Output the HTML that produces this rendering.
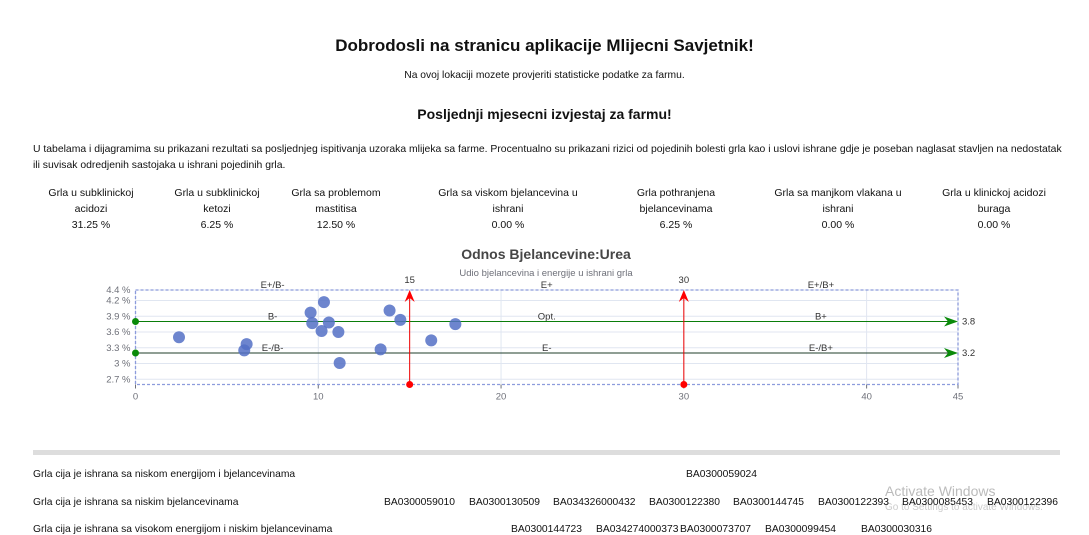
<!DOCTYPE html>
<html><head><meta charset="utf-8"><style>
body{margin:0;width:1089px;height:535px;overflow:hidden;background:#fff;font-family:"Liberation Sans",Arial,sans-serif;color:#111;position:relative}
.a{position:absolute;white-space:nowrap}
.c{position:absolute;text-align:center;transform:translateX(-50%);font-size:10.5px;line-height:16px;white-space:nowrap}
.r{position:absolute;font-size:10.3px;white-space:nowrap}
</style></head><body>
<div class="a" style="left:0;width:1089px;text-align:center;top:36px;font-size:17px;font-weight:bold">Dobrodosli na stranicu aplikacije Mlijecni Savjetnik!</div>
<div class="a" style="left:0;width:1089px;text-align:center;top:70px;font-size:10.3px">Na ovoj lokaciji mozete provjeriti statisticke podatke za farmu.</div>
<div class="a" style="left:0;width:1089px;text-align:center;top:106px;font-size:14px;font-weight:bold">Posljednji mjesecni izvjestaj za farmu!</div>
<div class="a" style="left:33px;top:142px;font-size:10.4px;line-height:16px;white-space:normal;width:1030px">U tabelama i dijagramima su prikazani rezultati sa posljednjeg ispitivanja uzoraka mlijeka sa farme. Procentualno su prikazani rizici od pojedinih bolesti grla kao i uslovi ishrane gdje je poseban naglasat stavljen na nedostatak ili suvisak odredjenih sastojaka u ishrani pojedinih grla.</div>
<div class="c" style="left:91px;top:185px">Grla u subklinickoj<br>acidozi<br>31.25 %</div>
<div class="c" style="left:217px;top:185px">Grla u subklinickoj<br>ketozi<br>6.25 %</div>
<div class="c" style="left:336px;top:185px">Grla sa problemom<br>mastitisa<br>12.50 %</div>
<div class="c" style="left:508px;top:185px">Grla sa viskom bjelancevina u<br>ishrani<br>0.00 %</div>
<div class="c" style="left:676px;top:185px">Grla pothranjena<br>bjelancevinama<br>6.25 %</div>
<div class="c" style="left:838px;top:185px">Grla sa manjkom vlakana u<br>ishrani<br>0.00 %</div>
<div class="c" style="left:994px;top:185px">Grla u klinickoj acidozi<br>buraga<br>0.00 %</div>

<svg id="chart" class="a" style="left:0;top:240px" width="1089" height="165" xmlns="http://www.w3.org/2000/svg"></svg>

<div class="a" style="left:33px;top:450px;width:1027px;height:5px;background:#ddd"></div>
<div class="r" style="left:33px;top:469px">Grla cija je ishrana sa niskom energijom i bjelancevinama</div>
<div class="r" style="left:33px;top:497px">Grla cija je ishrana sa niskim bjelancevinama</div>
<div class="r" style="left:33px;top:524px">Grla cija je ishrana sa visokom energijom i niskim bjelancevinama</div>
<div class="r" style="left:686px;top:469px">BA0300059024</div>
<div class="a" style="left:885px;top:483px;font-size:14px;color:#bbb">Activate Windows</div>
<div class="a" style="left:885px;top:502px;font-size:10px;color:#ccc">Go to Settings to activate Windows.</div>
<script>
const r2=[["BA0300059010",384],["BA0300130509",469],["BA034326000432",553],["BA0300122380",649],["BA0300144745",733],["BA0300122393",818],["BA0300085453",902],["BA0300122396",987]];
const r3=[["BA0300144723",511],["BA034274000373",596],["BA0300073707",680],["BA0300099454",765],["BA0300030316",861]];
function ids(list,top){list.forEach(([t,x])=>{const d=document.createElement('div');d.className='r';d.style.left=x+'px';d.style.top=top+'px';d.textContent=t;


document.body.appendChild(d);});}
ids(r2,497);ids(r3,524);

const xTicks=[0,10,20,30,40,45];
const yTicks=[4.4,4.2,3.9,3.6,3.3,3.0,2.7];
const yTickLabels=["4.4 %","4.2 %","3.9 %","3.6 %","3.3 %","3 %","2.7 %"];
const xVals=[2.38,6.08,5.95,9.58,9.67,10.31,10.18,10.58,11.1,11.17,13.41,13.9,14.49,16.18,17.5];
const yVals=[3.50,3.37,3.25,3.97,3.77,4.17,3.62,3.78,3.60,3.01,3.27,4.01,3.83,3.44,3.75];
const vLines=[15,30];
const hLines=[3.8,3.2];
const zoneLabels=[["E+/B-",7.5,4.5],["E+",22.5,4.5],["E+/B+",37.5,4.5],["B-",7.5,3.9],["Opt.",22.5,3.9],["B+",37.5,3.9],["E-/B-",7.5,3.3],["E-",22.5,3.3],["E-/B+",37.5,3.3]];
const X0=135.5,X1=958,XMAX=45,YTOP=50,YMAX=4.4,YMIN=2.6,YBOT=144.5;
const sx=v=>X0+v/XMAX*(X1-X0);
const sy=v=>YTOP+(YMAX-v)/(YMAX-YMIN)*(YBOT-YTOP);
const svg=document.getElementById('chart');const NS='http://www.w3.org/2000/svg';
function el(tag,at,name,txt){const e=document.createElementNS(NS,tag);for(const k in at)e.setAttribute(k,at[k]);


if(txt!==undefined)e.textContent=txt;svg.appendChild(e);return e;}
el('text',{x:546,y:19,'text-anchor':'middle','font-size':14,'font-weight':'bold',fill:'#464646'},'chart-title','Odnos Bjelancevine:Urea');
el('text',{x:546,y:36,'text-anchor':'middle','font-size':9.5,fill:'#6e7079'},'chart-subtitle','Udio bjelancevina i energije u ishrani grla');
yTicks.forEach((t,i)=>{el('line',{x1:X0,x2:X1,y1:sy(t),y2:sy(t),stroke:'#e0e6f1'},'y-gridline');
el('text',{x:X0-5,y:sy(t)+3,'text-anchor':'end','font-size':9.5,fill:'#6e7079'},'y-tick-label',yTickLabels[i]);});
xTicks.forEach(t=>{el('line',{x1:sx(t),x2:sx(t),y1:YTOP,y2:YBOT,stroke:'#e0e6f1'},'x-gridline');
el('line',{x1:sx(t),x2:sx(t),y1:YBOT,y2:YBOT+4,stroke:'#6e7079'},'x-tick');
el('text',{x:sx(t),y:YBOT+15,'text-anchor':'middle','font-size':9.5,fill:'#6e7079'},'x-tick-label',t);});
el('rect',{x:X0,y:YTOP,width:X1-X0,height:YBOT-YTOP,fill:'none',stroke:'#8c9bdc','stroke-dasharray':'3,2','stroke-width':1.3},'mark-area-border');
zoneLabels.forEach(z=>el('text',{x:sx(z[1]),y:sy(z[2])+3,'text-anchor':'middle','font-size':9.5,fill:'#333'},'zone-label',z[0]));
hLines.forEach((h,i)=>{el('line',{x1:X0,x2:X1-8,y1:sy(h),y2:sy(h),stroke:i?'#1f3d2a':'#0a7d0a','stroke-width':1.1},'threshold-line');
el('path',{d:`M${X1} ${sy(h)} L${X1-14} ${sy(h)-5} L${X1-10} ${sy(h)} L${X1-14} ${sy(h)+5}Z`,fill:'#0a8a0a'},'threshold-arrow');
el('circle',{cx:X0,cy:sy(h),r:3.5,fill:'#0a8a0a'},'threshold-start');
el('text',{x:X1+4,y:sy(h)+3,'font-size':9.5,fill:'#333'},'threshold-label',h);});
vLines.forEach(v=>{el('line',{x1:sx(v),x2:sx(v),y1:YBOT,y2:YTOP+6,stroke:'#e00','stroke-width':1},'vertical-threshold');
el('path',{d:`M${sx(v)} ${YTOP} L${sx(v)-5} ${YTOP+12} L${sx(v)} ${YTOP+8} L${sx(v)+5} ${YTOP+12}Z`,fill:'#f00'},'vertical-arrow');
el('circle',{cx:sx(v),cy:YBOT,r:3.5,fill:'#f00'},'vertical-start');
el('text',{x:sx(v),y:YTOP-7,'text-anchor':'middle','font-size':9.5,fill:'#333'},'vertical-label',v);});
xVals.forEach((x,i)=>el('circle',{cx:sx(x),cy:sy(yVals[i]),r:6,fill:'#5470c6','fill-opacity':0.85},'data-point'));
</script>
</body></html>
